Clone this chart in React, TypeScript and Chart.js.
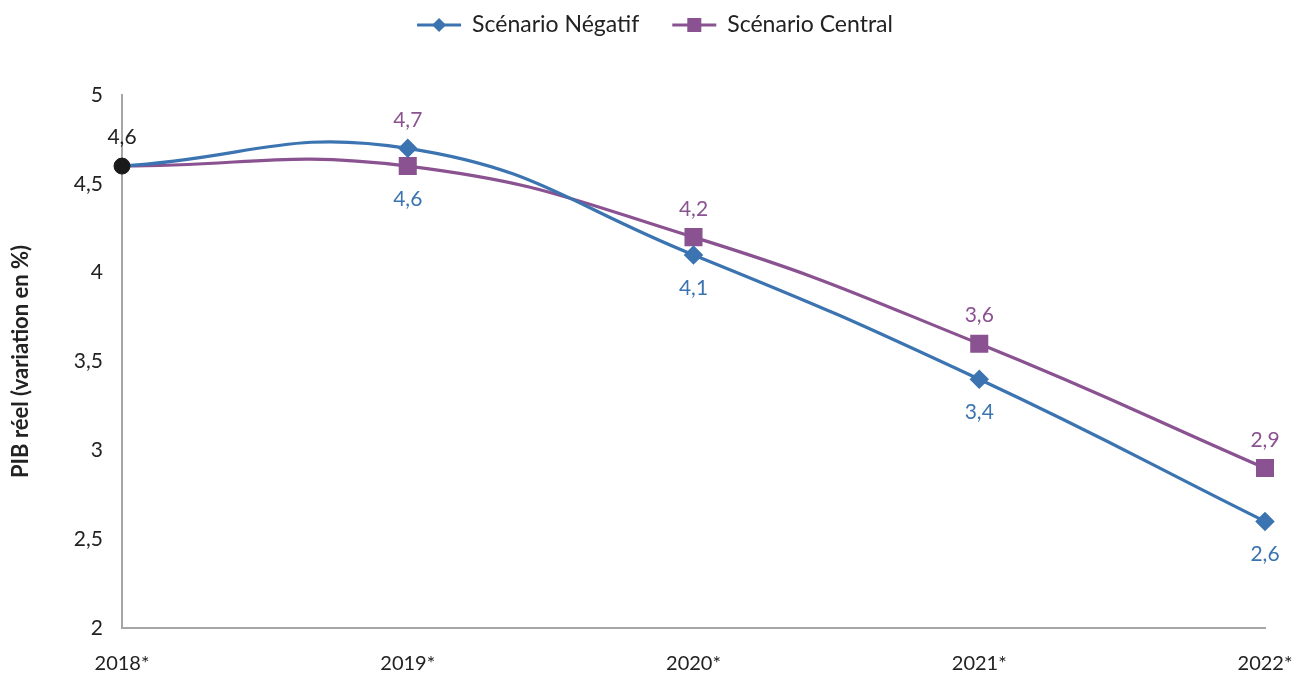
import React, { useEffect, useRef } from "react";
import { Chart, registerables } from "chart.js";

Chart.register(...registerables);

const categories = ["2018*", "2019*", "2020*", "2021*", "2022*"];
const negatifValues = [4.6, 4.7, 4.1, 3.4, 2.6];
const centralValues = [4.6, 4.6, 4.2, 3.6, 2.9];
const startValue = [4.6, null, null, null, null];
const yTicks = [2, 2.5, 3, 3.5, 4, 4.5, 5];

const BLUE = "#3b74b1";
const PURPLE = "#8a5291";
const TEXT = "#222222";
const AXIS = "#a6a6a6";
const FONT = "Lato, 'Noto Sans', sans-serif";

const fmt = (v: number) => v.toFixed(1).replace(".", ",");

const labelsPlugin = {
  id: "customLabels",
  afterDatasetsDraw(chart: any) {
    const ctx = chart.ctx;
    const x = chart.scales.x;
    const y = chart.scales.y;
    ctx.save();
    ctx.font = `21px ${FONT}`;
    ctx.textAlign = "center";
    ctx.textBaseline = "middle";
    for (let i = 0; i < categories.length; i++) {
      const px = x.getPixelForValue(i);
      if (i === 0) {
        ctx.fillStyle = TEXT;
        ctx.fillText(fmt(startValue[0] as number), px, y.getPixelForValue(startValue[0]) - 29);
        continue;
      }
      const hi = Math.max(negatifValues[i], centralValues[i]);
      const lo = Math.min(negatifValues[i], centralValues[i]);
      ctx.fillStyle = PURPLE;
      ctx.fillText(fmt(hi), px, y.getPixelForValue(hi) - 28);
      ctx.fillStyle = BLUE;
      ctx.fillText(fmt(lo), px, y.getPixelForValue(lo) + 33);
    }
    ctx.restore();
  },
};

const legendPlugin = {
  id: "customLegend",
  afterDraw(chart: any) {
    const ctx = chart.ctx;
    ctx.save();
    ctx.font = `23px ${FONT}`;
    const items = [
      { label: "Scénario Négatif", color: BLUE, shape: "diamond" },
      { label: "Scénario Central", color: PURPLE, shape: "square" },
    ];
    const lineW = 44;
    const gap = 11;
    const itemGap = 33;
    const widths = items.map((it) => ctx.measureText(it.label).width);
    const total = widths.reduce((a, b) => a + b, 0) + items.length * (lineW + gap) + itemGap;
    let cx = 655 - total / 2;
    const cy = 25;
    items.forEach((it, k) => {
      ctx.strokeStyle = it.color;
      ctx.lineWidth = 3;
      ctx.beginPath();
      ctx.moveTo(cx, cy);
      ctx.lineTo(cx + lineW, cy);
      ctx.stroke();
      ctx.fillStyle = it.color;
      const mx = cx + lineW / 2;
      ctx.beginPath();
      if (it.shape === "diamond") {
        ctx.moveTo(mx, cy - 7);
        ctx.lineTo(mx + 7, cy);
        ctx.lineTo(mx, cy + 7);
        ctx.lineTo(mx - 7, cy);
        ctx.closePath();
      } else {
        ctx.rect(mx - 7, cy - 7, 14, 14);
      }
      ctx.fill();
      ctx.fillStyle = TEXT;
      ctx.textAlign = "left";
      ctx.textBaseline = "middle";
      ctx.fillText(it.label, cx + lineW + gap, cy);
      cx += lineW + gap + widths[k] + itemGap;
    });
    ctx.restore();
  },
};

export default function App() {
  const ref = useRef<HTMLCanvasElement | null>(null);
  useEffect(() => {
    document.body.style.margin = "0";
    if (!ref.current) return;
    const chart = new Chart(ref.current, {
      type: "line",
      data: {
        labels: categories,
        datasets: [
          {
            label: "Départ",
            data: startValue,
            borderColor: "#1a1a1a",
            backgroundColor: "#1a1a1a",
            pointStyle: "circle",
            pointRadius: 8,
            showLine: false,
          },
          {
            label: "Scénario Négatif",
            data: negatifValues,
            borderColor: BLUE,
            backgroundColor: BLUE,
            borderWidth: 3.2,
            tension: 0.45,
            pointStyle: "rectRot",
            pointRadius: [0, 7.5, 7.5, 7.5, 7.5],
          },
          {
            label: "Scénario Central",
            data: centralValues,
            borderColor: PURPLE,
            backgroundColor: PURPLE,
            borderWidth: 3.2,
            tension: 0.45,
            pointStyle: "rect",
            pointRadius: [0, 10.5, 10.5, 10.5, 10.5],
          },
        ],
      },
      options: {
        animation: false,
        responsive: false,
        layout: { padding: { top: 95, right: 31, left: 0, bottom: 0 } },
        plugins: {
          legend: { display: false },
          tooltip: { enabled: false },
        },
        scales: {
          x: {
            offset: false,
            grid: { display: false, drawTicks: false },
            border: { color: AXIS, width: 2 },
            ticks: { color: TEXT, font: { family: FONT, size: 20 }, padding: 24, maxRotation: 0 },
            afterFit(scale: any) {
              scale.height = 47;
              scale.paddingLeft = 0;
              scale.paddingRight = 0;
            },
          },
          y: {
            min: 2,
            max: 5,
            afterBuildTicks(scale: any) {
              scale.ticks = yTicks.map((v) => ({ value: v }));
            },
            grid: { display: false, drawTicks: false },
            border: { color: AXIS, width: 2 },
            ticks: {
              color: TEXT,
              font: { family: FONT, size: 21 },
              padding: 19,
              callback: (v: any) => String(v).replace(".", ","),
            },
            title: {
              display: true,
              text: "PIB réel (variation en %)",
              color: TEXT,
              font: { family: FONT, size: 22, weight: "bold" },
              padding: { top: 8, bottom: 0 },
            },
            afterFit(scale: any) {
              scale.width = 122;
              scale.paddingTop = 0;
              scale.paddingBottom = 0;
            },
          },
        },
      },
      plugins: [labelsPlugin, legendPlugin],
    } as any);
    return () => chart.destroy();
  }, []);
  return <canvas ref={ref} width={1296} height={675} style={{ display: "block" }} />;
}
